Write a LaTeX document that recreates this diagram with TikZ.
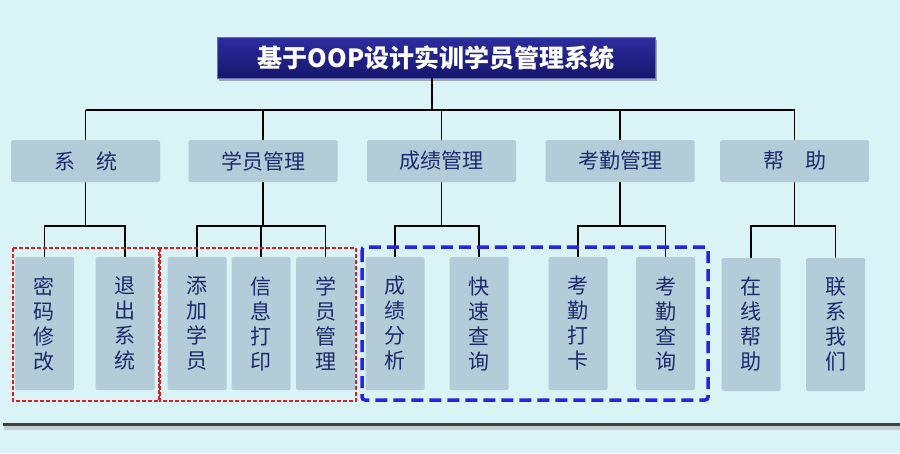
\documentclass[tikz,border=0pt]{standalone}
\usepackage{fontspec}
\setmainfont{Noto Sans CJK SC}
\usetikzlibrary{shadows}
\definecolor{bgc}{HTML}{DAF3F6}
\definecolor{boxc}{HTML}{B4CCD7}
\definecolor{txtc}{HTML}{1C2B6E}
\definecolor{redd}{HTML}{E01E24}
\definecolor{blued}{HTML}{2424E6}
\definecolor{ttop}{HTML}{2D2DA0}
\definecolor{tbot}{HTML}{16166C}
\tikzset{
  conn/.style={draw=black, line width=1.6pt},
  lvtwo/.style={fill=boxc, rounded corners=1.5pt, minimum width=149pt, minimum height=42pt, inner sep=0pt,
    text=txtc, font=\fontsize{21}{24}\selectfont},
  leafbox/.style={fill=boxc, rounded corners=1.5pt, minimum width=59pt, minimum height=133pt, inner sep=0pt,
    text=txtc, align=center, font=\fontsize{21}{25}\selectfont},
  redbox/.style={draw=redd, line width=1.8pt, dash pattern=on 4pt off 2pt},
  bluebox/.style={draw=blued, line width=3.5pt, dash pattern=on 12pt off 6pt, rounded corners=3pt},
}
\begin{document}
\begin{tikzpicture}[x=1pt,y=-1pt]
\fill[bgc] (0,0) rectangle (900,453);
\useasboundingbox (0,0) rectangle (900,453);
% title
\node[top color=ttop, bottom color=tbot, draw=ttop!70!white, line width=0.6pt,
  minimum width=438pt, minimum height=41pt, inner sep=0pt,
  drop shadow={shadow xshift=2pt, shadow yshift=-3pt, fill=black!55, opacity=0.6},
  text=white, font=\fontsize{25}{28}\selectfont\bfseries] (title) at (436,57.5) {基于OOP设计实训学员管理系统};
% level 2
\node[lvtwo] (s1) at (85.5,161) {系\hspace{1em}统};
\node[lvtwo] (s2) at (263,161) {学员管理};
\node[lvtwo] (s3) at (441.5,161) {成绩管理};
\node[lvtwo] (s4) at (620,161) {考勤管理};
\node[lvtwo] (s5) at (794.5,161) {帮\hspace{1em}助};
% leaves
\node[leafbox] (l11) at (44.5,323.5) {密\\码\\修\\改};
\node[leafbox] (l12) at (125,323.5) {退\\出\\系\\统};
\node[leafbox] (l21) at (197,323.5) {添\\加\\学\\员};
\node[leafbox] (l22) at (261,323.5) {信\\息\\打\\印};
\node[leafbox] (l23) at (325.5,323.5) {学\\员\\管\\理};
\node[leafbox] (l31) at (395,323.5) {成\\绩\\分\\析};
\node[leafbox] (l32) at (479,323.5) {快\\速\\查\\询};
\node[leafbox] (l41) at (578,323.5) {考\\勤\\打\\卡};
\node[leafbox] (l42) at (665.5,323.5) {考\\勤\\查\\询};
\node[leafbox] (l51) at (751,324.5) {在\\线\\帮\\助};
\node[leafbox] (l52) at (835.5,324.5) {联\\系\\我\\们};
% connectors top
\coordinate (hb) at (432,110);
\draw[conn] (title.south -| hb) -- (hb);
\draw[conn] (s1.north |- hb) -- (s5.north |- hb);
\foreach \n in {s1,s2,s3,s4,s5}{\draw[conn] (\n.north) -- (\n.north |- hb);}
% connectors to leaves
\coordinate (lb) at (0,226);
\draw[conn] (s1.south) -- (s1.south |- lb);
\draw[conn] (l11.north) |- (l12.north |- lb) -- (l12.north);
\draw[conn] (s2.south) -- (s2.south |- lb);
\draw[conn] (l21.north) |- (l23.north |- lb) -- (l23.north);
\draw[conn] (l22.north) -- (l22.north |- lb);
\draw[conn] (s3.south) -- (s3.south |- lb);
\draw[conn] (l31.north) |- (l32.north |- lb) -- (l32.north);
\draw[conn] (s4.south) -- (s4.south |- lb);
\draw[conn] (l41.north) |- (l42.north |- lb) -- (l42.north);
\draw[conn] (s5.south) -- (s5.south |- lb);
\draw[conn] (l51.north) |- (l52.north |- lb) -- (l52.north);
% dashed groups
\draw[redbox] (13,248) rectangle (159,401);
\draw[redbox] (160,248) rectangle (356,401);
\draw[bluebox] (362,247) rectangle (708,400);
% bottom line
\fill[black!30, opacity=0.6] (4,426) rectangle (900,430);
\draw[line width=3pt, draw=black!75] (3,424.5) -- (900,424.5);
\end{tikzpicture}
\end{document}
